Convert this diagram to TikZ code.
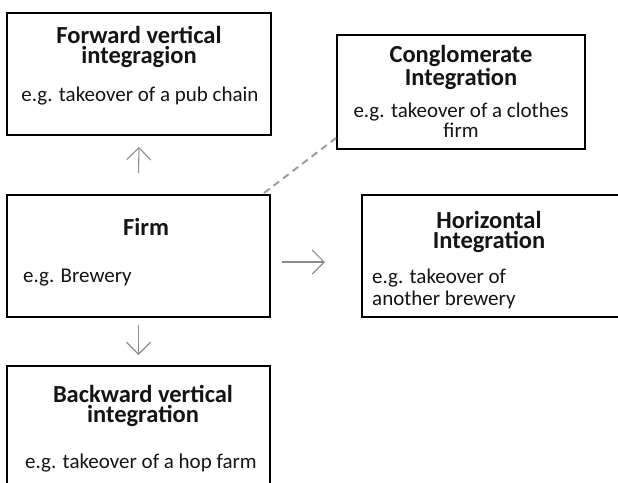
\documentclass[tikz,border=0pt]{standalone}
\usepackage{fontspec}
\setmainfont{Carlito}
\usetikzlibrary{arrows.meta}
\definecolor{inkc}{HTML}{141414}
\definecolor{linkc}{HTML}{8C8C8C}
\begin{document}
\begin{tikzpicture}[x=1pt,y=-1pt,
  box/.style={draw=black, line width=2.4pt, inner sep=0pt, outer sep=0pt, anchor=north west},
  % multi-line texts: the base anchor sits on the last line
  title/.style={inner sep=0pt, anchor=base, align=center, text=inkc, font=\fontsize{24.5}{20}\selectfont\bfseries},
  body/.style={inner sep=0pt, anchor=base, align=center, text=inkc, font=\fontsize{21}{17}\selectfont},
  bodyl/.style={body, anchor=base west, align=left, font=\fontsize{21}{22}\selectfont},
  arr/.style={draw=linkc, line width=1.1pt, -{Straight Barb[length=12pt,width=24pt,line width=1.1pt]}},
  dashlink/.style={draw=linkc!85, line width=2pt, dash pattern=on 7pt off 5pt}]
\useasboundingbox (0,0) rectangle (618,482);

% boxes
\node[box, minimum width=264pt, minimum height=122pt] (fwd)   at (7,13)   {};
\node[box, minimum width=248pt, minimum height=114pt] (cong)  at (337,35) {};
\node[box, minimum width=263pt, minimum height=122pt] (firm)  at (7,195)  {};
\node[box, minimum width=258pt, minimum height=122pt] (horiz) at (362,195) {};
\node[box, minimum width=263pt, minimum height=130pt] (back)  at (7,366)  {};

% forward vertical integration
\node[title] (fwdt) at (139,63) {Forward vertical\\integragion};
\node[body]  (fwdb) at (140,101) {e.g. takeover of a pub chain};

% conglomerate integration
\node[title] (congt) at (461,85) {Conglomerate\\Integration};
\node[body]  (congb) at (461,137) {e.g. takeover of a clothes\\firm};

% firm
\node[title] (firmt) at (146,235) {Firm};
\node[bodyl] (firmb) at (23,282) {e.g. Brewery};

% horizontal integration
\node[title] (horizt) at (489,248) {Horizontal\\Integration};
\node[bodyl] (horizb) at (372,305) {e.g. takeover of\\another brewery};

% backward vertical integration
\node[title] (backt) at (143,422) {Backward vertical\\integration};
\node[body]  (backb) at (141,468) {e.g. takeover of a hop farm};

% connectors
\draw[arr] ([yshift=22pt]firm.north) -- ([yshift=-12pt]fwd.south);
\draw[arr] ([yshift=-8pt]firm.south) -- ([yshift=11pt]back.north);
\draw[arr] ([xshift=12pt,yshift=-6pt]firm.east) -- ([xshift=-37pt,yshift=-6pt]horiz.west);
\draw[dashlink] ([xshift=-6pt,yshift=2pt]firm.north east) -- ([xshift=-1pt,yshift=11pt]cong.south west);
\end{tikzpicture}
\end{document}
